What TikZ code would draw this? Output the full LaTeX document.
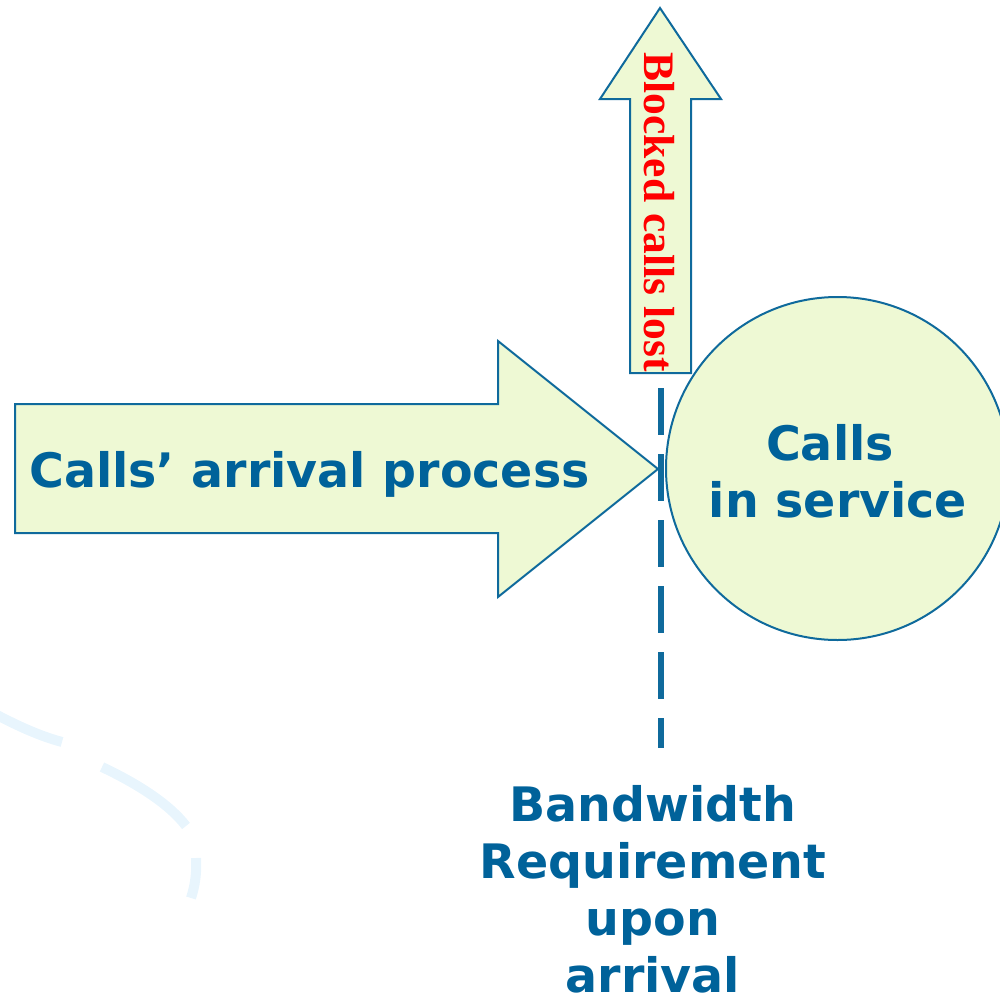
\documentclass[tikz,border=0pt]{standalone}
\usepackage{fontspec}
\setsansfont{DejaVu Sans}
\newfontfamily\timesbold{Liberation Serif}[BoldFont={* Bold}]
\definecolor{txtblue}{HTML}{00629A}
\definecolor{lineblue}{HTML}{0F6A9C}
\definecolor{fillgreen}{HTML}{EEF9D4}
\definecolor{swoosh}{HTML}{E8F5FD}
\definecolor{lostred}{HTML}{FF0000}
\tikzset{
  shapebox/.style={draw=lineblue, fill=fillgreen, line width=2pt, line join=miter},
  bluetext/.style={text=txtblue, font=\sffamily\bfseries\fontsize{47.5}{57}\selectfont, inner sep=0pt},
  swooshline/.style={draw=swoosh, line width=10pt},
  dashline/.style={draw=lineblue, line width=5.5pt, dash pattern=on 47pt off 19pt}
}
\begin{document}
\begin{tikzpicture}[x=1pt,y=-1pt]
\useasboundingbox (0,0) rectangle (999,1001);
% background swoosh
\draw[swooshline] (-5,714) .. controls (20,727) and (40,736) .. (62,742);
\draw[swooshline] (102,767) .. controls (140,785) and (170,805) .. (186,826);
\draw[swooshline] (196,858) .. controls (197,872) and (195,886) .. (191,898);
% up arrow (blocked calls lost)
\draw[shapebox] (630,373) -- (630,99) -- (600,99) -- (660,8) -- (721,99) -- (691,99) -- (691,373) -- cycle;
\node[text=lostred, font=\timesbold\bfseries\fontsize{43.5}{50}\selectfont, rotate=-90, inner sep=0pt] (lost) at (659,212) {Blocked calls lost};
% circle
\node[shapebox, circle, minimum size=343pt, inner sep=0pt] (serv) at (837.5,468.5) {};
\node[bluetext, align=center] (servtxt) at (838,471) {Calls\hspace*{16pt}\\in service};
% big arrow
\draw[shapebox] (15,404) -- (498,404) -- (498,341) -- (658,469) -- (498,597) -- (498,533) -- (15,533) -- cycle;
\coordinate (tip) at (658,469);
\node[bluetext, anchor=base west] (arr) at (29,487) {Calls’ arrival process};
% dashed line
\coordinate (dtop) at (661,388);
\coordinate (dbot) at (661,748);
\draw[dashline] (dtop) -- (dbot);
% bottom label
\node[bluetext, align=center, anchor=base] (bw) at (653,992) {Bandwidth\\Requirement\\upon\\arrival};
\end{tikzpicture}
\end{document}
